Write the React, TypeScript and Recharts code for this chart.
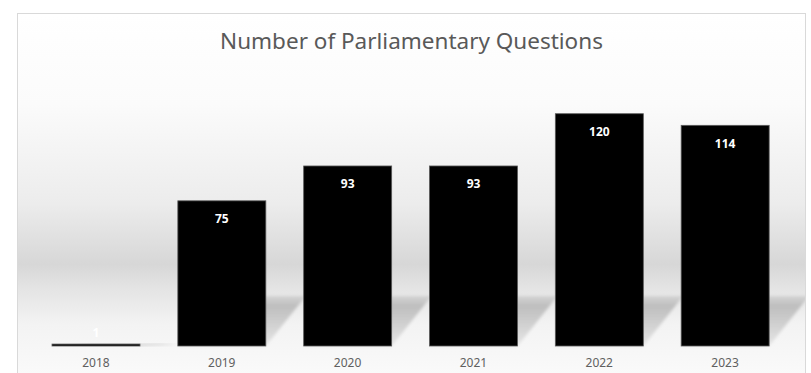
import { Bar, BarChart, LabelList, XAxis, YAxis } from 'recharts'

const YEARS = ['2018', '2019', '2020', '2021', '2022', '2023']
const QUESTIONS = [1, 75, 93, 93, 120, 114]

const data = YEARS.map((year, i) => ({ year, questions: QUESTIONS[i] }))

const FONT = '"Noto Sans", "Open Sans", sans-serif'

// bar + a slanted floor shadow behind it
function ShadowBar(props: any) {
  const { x, y, width, height, index } = props
  const h = Math.min(50, height)
  const skew = 40
  const bottom = y + height
  const id = `shadow-${index}`
  return (
    <g>
      <defs>
        <linearGradient id={id} x1="0" y1="0" x2="0" y2="1">
          <stop offset="0%" stopColor="#c4c4c4" stopOpacity={0.6} />
          <stop offset="20%" stopColor="#bebebe" />
          <stop offset="100%" stopColor="#e6e6e6" />
        </linearGradient>
        <filter id={`${id}-blur`} x="-20%" y="-20%" width="140%" height="140%">
          <feGaussianBlur stdDeviation="1.5" />
        </filter>
      </defs>
      <polygon
        points={`${x},${bottom} ${x + width},${bottom} ${x + width + skew},${bottom - h} ${x + skew},${bottom - h}`}
        fill={`url(#${id})`}
        filter={`url(#${id}-blur)`}
      />
      <rect x={x} y={y} width={width} height={height} fill="#000" stroke="#5a5a5a" strokeWidth={0.8} />
    </g>
  )
}

function ValueLabel(props: any) {
  const { x, y, width, height, value } = props
  const cy = height < 20 ? y - 12 : y + 18
  return (
    <text
      x={x + width / 2}
      y={cy}
      textAnchor="middle"
      dominantBaseline="central"
      fill="#fff"
      fontFamily={FONT}
      fontWeight={700}
      fontSize={12}
    >
      {value}
    </text>
  )
}

export default function App() {
  return (
    <div
      style={{
        position: 'fixed',
        left: 17,
        top: 13,
        width: 789,
        height: 362,
        boxSizing: 'border-box',
        border: '1px solid #d9d9d9',
        borderBottom: 'none',
        background:
          'linear-gradient(to bottom, #ffffff 0px, #fbfbfb 90px, #ececec 190px, #d7d7d7 250px, #e4e4e4 275px, #f3f3f3 310px, #fafafa 360px)',
        fontFamily: FONT,
      }}
    >
      <div
        style={{
          position: 'absolute',
          top: 11,
          left: 0,
          right: 0,
          textAlign: 'center',
          fontSize: 22.5,
          color: '#595959',
        }}
      >
        Number of Parliamentary Questions
      </div>
      <BarChart
        width={787}
        height={359}
        data={data}
        margin={{ top: 61, right: 17, bottom: 0, left: 15 }}
        barSize={88}
      >
        <XAxis
          dataKey="year"
          height={27}
          axisLine={false}
          tickLine={false}
          tickMargin={6}
          tick={{ fill: '#606060', fontSize: 12, fontFamily: FONT }}
        />
        <YAxis hide domain={[0, 140]} />
        <Bar dataKey="questions" shape={ShadowBar} isAnimationActive={false}>
          <LabelList dataKey="questions" content={ValueLabel} />
        </Bar>
      </BarChart>
    </div>
  )
}
